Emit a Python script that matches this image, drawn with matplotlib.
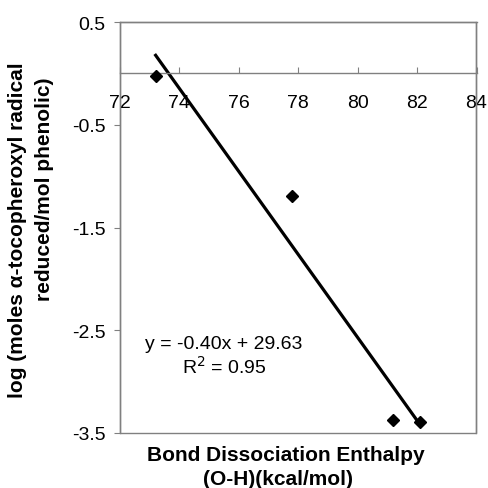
import numpy as np
import matplotlib.pyplot as plt
from matplotlib.patches import Rectangle

plt.rcParams['font.family'] = ['Liberation Sans', 'DejaVu Sans']

# data
bde = [73.2, 77.8, 81.2, 82.1]           # kcal/mol
log_reduced = [-0.03, -1.19, -3.37, -3.39]
x_ticks = [72, 74, 76, 78, 80, 82, 84]
y_ticks = [0.5, -0.5, -1.5, -2.5, -3.5]
eq_text = 'y = -0.40x + 29.63'
r2_text = 'R$^2$ = 0.95'

grey = '#808080'

fig = plt.figure(figsize=(4.89, 4.89), dpi=100)
ax = fig.add_axes([120 / 489, 1 - 434 / 489, 356.5 / 489, 411 / 489])

ax.plot(bde, log_reduced, 'D', color='black', markersize=6.5, zorder=3)

slope, icpt = np.polyfit(bde, log_reduced, 1)
xl = np.array([min(bde), max(bde)])
ax.plot(xl, slope * xl + icpt, color='black', linewidth=2.3, zorder=2)

ax.set_xlim(72, 84)
ax.set_ylim(-3.5, 0.5)
ax.set_xticks(x_ticks)
ax.set_yticks(y_ticks)
ax.set_yticklabels([f'{v:.1f}' for v in y_ticks])

# x axis sits at y = 0, frame drawn round the plot area
ax.spines['bottom'].set_position(('data', 0))
for s in ax.spines.values():
    s.set_color(grey)
    s.set_linewidth(1)
ax.add_patch(Rectangle((0, 0), 1, 1, transform=ax.transAxes, fill=False,
                       edgecolor=grey, linewidth=1, clip_on=False, zorder=1))

ax.tick_params(axis='x', direction='in', length=4, color=grey, pad=15, labelsize=14)
ax.tick_params(axis='y', direction='out', length=4.5, color=grey, pad=6, labelsize=14)

ax.text(75.5, -2.63, eq_text, ha='center', va='center', fontsize=14)
ax.text(75.5, -2.85, r2_text, ha='center', va='center', fontsize=14)

fig.text(286 / 489, 1 - 456 / 489, 'Bond Dissociation Enthalpy', ha='center', va='center',
         fontsize=15, fontweight='bold')
fig.text(278 / 489, 1 - 480 / 489, '(O-H)(kcal/mol)', ha='center', va='center',
         fontsize=15, fontweight='bold')
fig.text(18 / 489, 1 - 230 / 489, 'log (moles α-tocopheroxyl radical', rotation=90,
         ha='center', va='center', fontsize=15, fontweight='bold')
fig.text(45 / 489, 1 - 189 / 489, 'reduced/mol phenolic)', rotation=90,
         ha='center', va='center', fontsize=15, fontweight='bold')

fig.savefig('out.png', dpi=100)
